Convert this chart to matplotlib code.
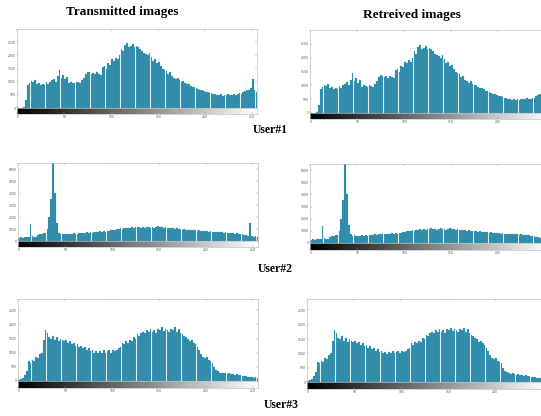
import numpy as np
import matplotlib
matplotlib.use("Agg")
import matplotlib.pyplot as plt

# grey levels (bins of width 2) and counts
levels = np.arange(0, 256, 2)

user1 = [0, 0, 0, 20, 300, 880, 950, 1020, 980, 1050,
         900, 950, 870, 920, 860, 980, 900, 1000, 1050, 1120,
         1000, 1200, 1450, 1150, 1250, 1100, 1180, 950, 1000, 960,
         940, 1000, 980, 950, 1050, 1150, 1300, 1380, 1350, 1300,
         1320, 1280, 1350, 1300, 1250, 1550, 1600, 1500, 1700, 1650,
         1850, 1800, 1900, 1850, 2000, 2250, 2150, 2400, 2450, 2300,
         2350, 2420, 2300, 2350, 2300, 2250, 2150, 2100, 2050, 2000,
         2100, 1950, 1800, 1850, 1700, 1750, 1600, 1500, 1450, 1400,
         1300, 1350, 1200, 1150, 1100, 1150, 1050, 1000, 1020, 950,
         900, 920, 850, 800, 780, 760, 720, 700, 680, 650,
         620, 600, 580, 560, 540, 520, 500, 480, 520, 470,
         500, 480, 520, 490, 500, 540, 500, 520, 560, 530,
         600, 650, 700, 680, 750, 1100, 700, 600]

user2 = [250, 300, 280, 350, 300, 320, 1400, 400, 300, 350,
         500, 550, 600, 650, 650, 1000, 2000, 3500, 9000, 4000,
         1500, 700, 600, 620, 580, 600, 560, 620, 600, 650,
         600, 620, 680, 650, 700, 680, 720, 700, 750, 700,
         780, 720, 760, 800, 780, 820, 780, 850, 800, 880,
         900, 950, 1000, 980, 1050, 1020, 1100, 1050, 1120, 1100,
         1150, 1100, 1180, 1150, 1200, 1120, 1180, 1100, 1150, 1200,
         1120, 1150, 1100, 1180, 1220, 1150, 1180, 1100, 1150, 1080,
         1100, 1050, 1080, 1000, 1050, 980, 1000, 950, 980, 920,
         950, 900, 920, 880, 900, 850, 880, 820, 850, 800,
         820, 780, 800, 760, 780, 740, 760, 720, 740, 700,
         720, 680, 700, 650, 680, 620, 650, 600, 580, 550,
         520, 500, 450, 1500, 400, 300, 450, 350]

user3 = [50, 60, 100, 200, 350, 700, 650, 750, 700, 850,
         800, 950, 1000, 1450, 1800, 1700, 1550, 1500, 1600, 1450,
         1550, 1400, 1500, 1450, 1400, 1450, 1350, 1400, 1300, 1350,
         1250, 1300, 1200, 1250, 1150, 1200, 1100, 1150, 1050, 1100,
         1000, 1050, 980, 1050, 1000, 1080, 1000, 1050, 1100, 1000,
         1080, 1050, 1100, 1150, 1200, 1350, 1300, 1400, 1350, 1450,
         1400, 1550, 1500, 1650, 1600, 1700, 1750, 1700, 1800, 1750,
         1850, 1750, 1800, 1700, 1850, 1800, 1900, 1780, 1850, 1800,
         1750, 1850, 1800, 1900, 1750, 1850, 1700, 1650, 1600, 1550,
         1500, 1400, 1450, 1350, 1300, 1200, 1100, 950, 850, 800,
         850, 750, 700, 650, 500, 400, 350, 300, 280, 300,
         270, 260, 280, 240, 250, 220, 230, 200, 210, 180,
         170, 160, 150, 140, 150, 120, 130, 100]

xticks = [0, 50, 100, 150, 200, 250]
yticks_a = [0, 500, 1000, 1500, 2000, 2500]
yticks_b = [0, 1000, 2000, 3000, 4000, 5000, 6000]

W, H = 541, 416
fig = plt.figure(figsize=(W / 100, H / 100), dpi=100)


def px_axes(x0, y0, x1, y1):
    # pixel box (top-left origin) -> figure axes
    return fig.add_axes([x0 / W, 1 - y1 / H, (x1 - x0) / W, (y1 - y0) / H])


def style(ax):
    ax.tick_params(direction="in", length=1.5, width=0.3, pad=1,
                   colors="#888888", labelcolor="#555555")
    for s in ax.spines.values():
        s.set_color("#c0c0c0")
        s.set_linewidth(0.5)


def histo(x0, top, zero, gbot, counts, ymax, yticks, cut=False):
    # the right column runs past the page edge, so its last label is gone
    xt = xticks[:-1] if cut else xticks

    ax = px_axes(x0, top, x0 + 240, zero)
    ax.bar(levels, counts, width=1.85, align="edge", color="#2a86a5",
           edgecolor="#5fb6d0", linewidth=0.15)
    ax.set_xlim(-0.5, 255.5)
    ax.set_ylim(0, ymax)
    ax.set_xticks(xt)
    ax.set_xticklabels([])
    ax.set_yticks(yticks)
    ax.set_yticklabels([str(t) for t in yticks], fontsize=2.2)
    style(ax)
    ax.tick_params(top=True, right=True)

    gx = px_axes(x0, zero, x0 + 240, gbot)
    gx.imshow(np.linspace(0, 1, 256)[None, :], cmap="gray", aspect="auto",
              extent=[-0.5, 255.5, 0, 1])
    gx.set_xlim(-0.5, 255.5)
    gx.set_yticks([])
    gx.set_xticks(xt)
    gx.set_xticklabels([str(t) for t in xt], fontsize=2.2)
    style(gx)


histo(17, 29, 108, 114, user1, 3000, yticks_a)
histo(310, 30, 113, 119, user1, 3000, yticks_a, cut=True)
histo(18, 163, 241, 247, user2, 6500, yticks_b)
histo(310, 164, 243, 250, user2, 6500, yticks_b, cut=True)
histo(18, 299, 381, 388, user3, 2900, yticks_a)
histo(307, 299, 382, 389, user3, 2900, yticks_a, cut=True)

serif = ["Liberation Serif", "DejaVu Serif"]
fig.text(122 / W, 1 - 12 / H, "Transmitted images", ha="center", va="center",
         family=serif, fontweight="bold", fontsize=9.5)
fig.text(412 / W, 1 - 15 / H, "Retreived images", ha="center", va="center",
         family=serif, fontweight="bold", fontsize=9.5)
fig.text(270 / W, 1 - 130 / H, "User#1", ha="center", va="center",
         family=serif, fontweight="bold", fontsize=8.5)
fig.text(275 / W, 1 - 269 / H, "User#2", ha="center", va="center",
         family=serif, fontweight="bold", fontsize=8.5)
fig.text(281 / W, 1 - 405 / H, "User#3", ha="center", va="center",
         family=serif, fontweight="bold", fontsize=8.5)

fig.savefig("out.png", dpi=100)
